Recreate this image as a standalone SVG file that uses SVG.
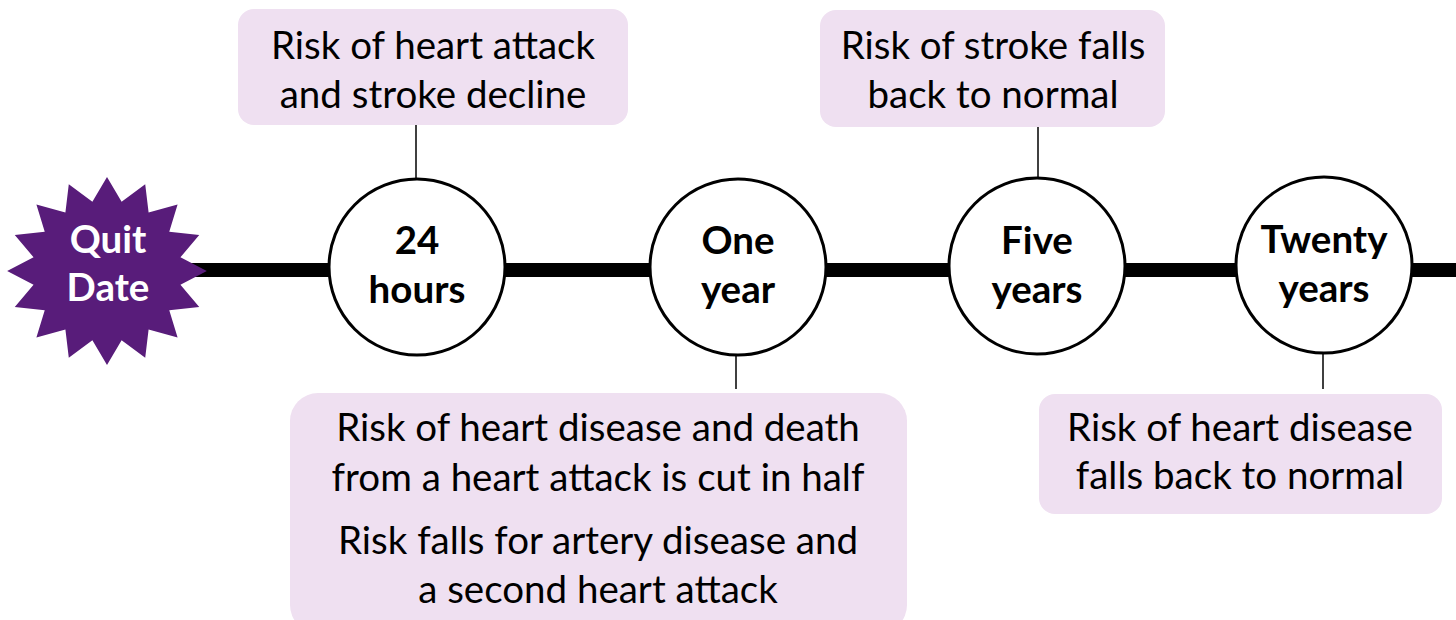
<svg xmlns="http://www.w3.org/2000/svg" width="1456" height="620" viewBox="0 0 1456 620">
<style>
.box{fill:#EFE0F1;}
.t{font-family:Lato,"Open Sans","Liberation Sans",sans-serif;font-size:38.5px;fill:#000;text-anchor:middle;}
.b{font-family:Lato,"Open Sans","Liberation Sans",sans-serif;font-size:38.5px;font-weight:bold;fill:#000;text-anchor:middle;}
.w{fill:#fff;}
.c{fill:#fff;stroke:#000;stroke-width:3;}
.lk{stroke:#000;stroke-width:1.5;fill:none;}
</style>
<rect width="1456" height="620" fill="#fff"/>
<g id="connectors">
<line x1="190" y1="270" x2="1456" y2="270" stroke="#000" stroke-width="14"/>
<line class="lk" x1="416" y1="125" x2="416" y2="179"/>
<line class="lk" x1="1038" y1="127" x2="1038" y2="179"/>
<line class="lk" x1="736" y1="355" x2="736" y2="389"/>
<line class="lk" x1="1323" y1="353" x2="1323" y2="389"/>
</g>
<g id="quit">
<polygon fill="#581C7A" transform="translate(107 271) scale(1.04 1) translate(-107 -271)" points="107,177 121.05,201.85 143.74,184.16 147,212.38 174.88,204.53 166.87,231.83 195.69,235.03 177.62,257.25 203,271 177.62,284.75 195.69,306.97 166.87,310.17 174.88,337.47 147,329.62 143.74,357.84 121.05,340.15 107,365 92.95,340.15 70.26,357.84 67,329.62 39.12,337.47 47.13,310.17 18.31,306.97 36.38,284.75 11,271 36.38,257.25 18.31,235.03 47.13,231.83 39.12,204.53 67,212.38 70.26,184.16 92.95,201.85"/>
<text class="b w" x="108" y="253">Quit</text>
<text class="b w" x="108" y="301">Date</text>
</g>
<g id="h24">
<circle class="c" cx="417" cy="267" r="88"/>
<text class="b" x="417" y="254">24</text>
<text class="b" x="417" y="303">hours</text>
</g>
<g id="y1">
<circle class="c" cx="738" cy="267" r="88"/>
<text class="b" x="738" y="254">One</text>
<text class="b" x="738" y="303">year</text>
</g>
<g id="y5">
<circle class="c" cx="1037" cy="266" r="88"/>
<text class="b" x="1037" y="254">Five</text>
<text class="b" x="1037" y="303">years</text>
</g>
<g id="y20">
<circle class="c" cx="1324" cy="265" r="88"/>
<text class="b" x="1324" y="253">Twenty</text>
<text class="b" x="1324" y="302">years</text>
</g>
<g id="box1">
<rect class="box" x="238" y="9" width="390" height="116" rx="16"/>
<text class="t" x="433" y="59">Risk of heart attack</text>
<text class="t" x="433" y="108">and stroke decline</text>
</g>
<g id="box2">
<rect class="box" x="820" y="10" width="345" height="117" rx="16"/>
<text class="t" x="993" y="59">Risk of stroke falls</text>
<text class="t" x="993" y="108">back to normal</text>
</g>
<g id="box3">
<rect class="box" x="290" y="393" width="617" height="240" rx="28"/>
<text class="t" x="598" y="441">Risk of heart disease and death</text>
<text class="t" x="598" y="491">from a heart attack is cut in half</text>
<text class="t" x="598" y="554">Risk falls for artery disease and</text>
<text class="t" x="598" y="603">a second heart attack</text>
</g>
<g id="box4">
<rect class="box" x="1039" y="394" width="403" height="120" rx="16"/>
<text class="t" x="1240" y="441">Risk of heart disease</text>
<text class="t" x="1240" y="489">falls back to normal</text>
</g>
</svg>
